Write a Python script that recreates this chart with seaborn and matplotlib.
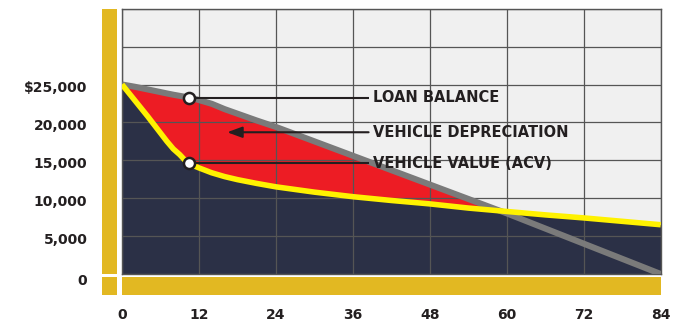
import numpy as np
import pandas as pd
import matplotlib
matplotlib.use("Agg")
import matplotlib.pyplot as plt
import matplotlib.transforms as mtransforms
import seaborn as sns
from matplotlib.patches import Rectangle

# ---- data ----
months = [0, 2, 4, 6, 7, 8, 9, 10, 11, 12, 14, 16, 18, 21, 24, 30, 36, 42, 48, 54, 60, 66, 72, 78, 84]
loan_balance = [25000, 24700, 24350, 24000, 23820, 23650, 23500, 23350, 23170, 22950, 22450, 21750,
                21150, 20250, 19400, 17500, 15600, 13700, 11800, 9900, 8000, 6000, 4000, 2000, 0]
vehicle_value = [25000, 22900, 20800, 18600, 17500, 16500, 15750, 14850, 14350, 14000, 13350, 12850,
                 12450, 11950, 11500, 10800, 10200, 9700, 9250, 8700, 8250, 7800, 7400, 6950, 6500]

x_ticks = [0, 12, 24, 36, 48, 60, 72, 84]
x_tick_labels = ["0", "12", "24", "36", "48", "60", "72", "84"]
y_ticks = [0, 5000, 10000, 15000, 20000, 25000, 30000, 35000]
y_tick_labels = ["0", "5,000", "10,000", "15,000", "20,000", "$25,000", "", ""]

label_texts = ["LOAN BALANCE", "VEHICLE DEPRECIATION", "VEHICLE VALUE (ACV)"]
marker_month = 10.46
line_end_month = 38.45
label_month = 39.1
depreciation_arrow_tip = 16.4
depreciation_level = 18700

# ---- style ----
NAVY = "#2B3046"
RED = "#ED1C24"
YELLOW = "#FFF200"
GRAY = "#7A7A7A"
GOLD = "#E2B822"
BG = "#F0F0F0"
GRID = "#555555"
DARK = "#231F20"

sns.set_style("white")
plt.rcParams["font.family"] = ["DejaVu Sans"]

W, H = 676, 323
fig = plt.figure(figsize=(W / 100, H / 100), dpi=100)
L, R, T, B = 122, 660.7, 8.7, 274
ax = fig.add_axes([L / W, 1 - B / H, (R - L) / W, (B - T) / H])
ax.set_facecolor(BG)

df = pd.DataFrame({"month": months, "loan": loan_balance, "value": vehicle_value})
loan = np.array(loan_balance, dtype=float)
value = np.array(vehicle_value, dtype=float)

ax.fill_between(months, 0, value, color=NAVY, lw=0, zorder=0.2)
ax.fill_between(months, value, loan, where=loan >= value, interpolate=True,
                color=RED, lw=0, zorder=0.3)

sns.lineplot(data=df, x="month", y="loan", color=GRAY, lw=4.4, ax=ax, zorder=3,
             solid_capstyle="butt")
sns.lineplot(data=df, x="month", y="value", color=YELLOW, lw=4.0, ax=ax, zorder=4,
             solid_capstyle="butt")

# annotations
loan_at_marker = np.interp(marker_month, months, loan_balance)
value_at_marker = np.interp(marker_month, months, vehicle_value)
for yv in (loan_at_marker, value_at_marker):
    ax.plot([marker_month, line_end_month], [yv, yv], color=DARK, lw=1.5, zorder=5,
            solid_capstyle="butt")
ax.annotate("", xy=(depreciation_arrow_tip, depreciation_level),
            xytext=(line_end_month, depreciation_level),
            arrowprops=dict(arrowstyle="-|>,head_length=0.6,head_width=0.22",
                            color=DARK, lw=1.5, mutation_scale=15, shrinkA=0, shrinkB=0),
            zorder=5)
ax.plot([marker_month, marker_month], [loan_at_marker, value_at_marker], "o", ls="none",
        ms=8, mfc="white", mec=DARK, mew=1.8, zorder=6)

for txt, yv in zip(label_texts, [loan_at_marker, depreciation_level, value_at_marker]):
    ax.text(label_month, yv, txt, fontsize=10.5, fontweight="bold", color=DARK,
            ha="left", va="center", zorder=7)

ax.set_xlim(0, 84)
ax.set_ylim(0, 35000)
ax.set_xticks(x_ticks)
ax.set_xticklabels(x_tick_labels)
ax.set_yticks(y_ticks)
ax.set_yticklabels(y_tick_labels)
ax.set_xlabel("")
ax.set_ylabel("")
ax.grid(True, color=GRID, lw=0.9)
ax.set_axisbelow(True)
ax.tick_params(axis="both", length=0, labelsize=10, labelcolor=DARK)
ax.tick_params(axis="y", pad=25)
ax.tick_params(axis="x", pad=24.5)
for lab in ax.get_xticklabels() + ax.get_yticklabels():
    lab.set_fontweight("bold")
ylab_offset = mtransforms.ScaledTranslation(0, -2.5 / 100, fig.dpi_scale_trans)
for i, lab in enumerate(ax.get_yticklabels()):
    extra = -3 / 100 if i == 0 else 0
    lab.set_transform(lab.get_transform() + ylab_offset +
                      mtransforms.ScaledTranslation(0, extra, fig.dpi_scale_trans))
for sp in ax.spines.values():
    sp.set_color(GRID)
    sp.set_linewidth(1.0)

# golden frame bars
def fig_rect(x0, y0, x1, y1):
    fig.add_artist(Rectangle((x0 / W, 1 - y1 / H), (x1 - x0) / W, (y1 - y0) / H,
                             transform=fig.transFigure, color=GOLD, lw=0))

fig_rect(102, 8.7, 116.7, 274)
fig_rect(102, 277.3, 116.7, 295.3)
fig_rect(122, 277.3, 660.7, 295.3)

fig.savefig("out.png", dpi=100, facecolor="white")
